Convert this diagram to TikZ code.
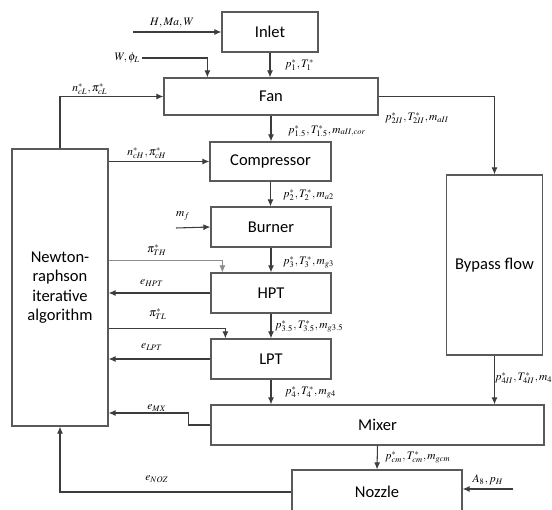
\documentclass[tikz,border=0pt]{standalone}
\usepackage{mathptmx}
\usepackage{fontspec}
\setmainfont{Carlito}
\usepackage{xcolor}
\usepackage{tikz}
\usetikzlibrary{arrows.meta, positioning, calc}
\definecolor{edge}{HTML}{3c3c3c}
\definecolor{frame}{HTML}{5a5a5a}
\definecolor{faint}{HTML}{8c8c8c}

\begin{document}
\begin{tikzpicture}[x=0.02cm, y=-0.02cm,
        block/.style={draw=frame, line width=0.7pt, fill=white, font=\fontsize{9.4}{11}\selectfont},
        arr/.style={draw=edge, line width=0.6pt, -{Latex[length=4pt,width=3.4pt]}},
        lbl/.style={font=\fontsize{6.5}{8}\selectfont, inner sep=1pt}]
        \clip (0,0) rectangle (552,510);
        % Blocks
        \node[block, minimum width=1.92cm, minimum height=0.8cm] (inlet) at (270,32) {Inlet};
        \node[block, minimum width=4.28cm, minimum height=0.74cm] (fan) at (271,96.5) {Fan};
        \node[block, minimum width=2.42cm, minimum height=0.78cm] (comp) at (270.5,161.5) {Compressor};
        \node[block, minimum width=2.4cm, minimum height=0.8cm] (burner) at (271,227) {Burner};
        \node[block, minimum width=2.4cm, minimum height=0.8cm] (hpt) at (271,293) {HPT};
        \node[block, minimum width=2.4cm, minimum height=0.8cm] (lpt) at (271,359) {LPT};
        \node[block, minimum width=6.66cm, minimum height=0.8cm] (mixer) at (377.5,425) {Mixer};
        \node[block, minimum width=3.4cm, minimum height=0.88cm] (nozzle) at (377,492) {Nozzle};
        \node[block, minimum width=1.92cm, minimum height=3.6cm] (bypass) at (494.5,265) {Bypass flow};
        \node[block, minimum width=1.92cm, minimum height=5.54cm, align=center] (newton) at (60,287.5)
            {Newton-\\raphson\\iterative\\algorithm};

        % Inputs
        \coordinate (hin) at (133,32);
        \coordinate (wphi) at (142,58);
        \coordinate (mf) at (176,228);
        \coordinate (a8) at (513,489);
        \draw[arr] (hin) -- (inlet.west);
        \draw[arr] (wphi) -| ($(fan.north west)+(44,0)$);
        \draw[arr] (mf) -- (burner.west);
        \draw[arr] (a8) -- (a8 -| nozzle.east);

        % Main flow
        \draw[arr] (inlet.south) -- (inlet.south |- fan.north);
        \draw[arr] (fan.south) -- (fan.south |- comp.north);
        \draw[arr] (comp.south) -- (comp.south |- burner.north);
        \draw[arr] (burner.south) -- (hpt.north);
        \draw[arr] (hpt.south) -- (lpt.north);
        \draw[arr] (lpt.south) -- (lpt.south |- mixer.north);
        \draw[arr] (fan.east) -| (bypass.north);
        \draw[arr] (bypass.south) -- (bypass.south |- mixer.north);
        \draw[arr] (mixer.south) -- (nozzle.north);

        % Solver links
        \draw[arr] (newton.north) |- (fan.west);
        \draw[arr] (newton.east |- comp.west) -- (comp.west);
        \draw[arr, draw=faint, line width=0.4pt] ($(newton.east |- hpt.north)+(0,-12)$) -| ($(hpt.north west)+(12,0)$);
        \draw[arr] (hpt.west) -- (newton.east |- hpt.west);
        \draw[arr] ($(newton.east |- lpt.north)+(0,-10)$) -| ($(lpt.north west)+(15,0)$);
        \draw[arr] (lpt.west) -- (newton.east |- lpt.west);
        \draw[arr] (mixer.west) -- ++(-22,0) |- ($(newton.east |- mixer.west)+(0,-12)$);
        \draw[arr] (nozzle.west) -| (newton.south);

        % Labels
        \node[lbl] (lhmw) at (172,23) {$H,Ma,W$};
        \node[lbl, anchor=east] (lwphi) at (wphi) {$W,\phi_L$};
        \node[lbl] (lmf) at (183,216) {$m_f$};
        \node[lbl] (la8) at (488,480) {$A_8,p_H$};
        \node[lbl, anchor=west] (lp1) at (283,65) {$p_1^*,T_1^*$};
        \node[lbl, anchor=west] (lp15) at (286,131) {$p_{1.5}^*,T_{1.5}^*,m_{aII,cor}$};
        \node[lbl, anchor=west] (lp2) at (281,195) {$p_2^*,T_2^*,m_{a2}$};
        \node[lbl, anchor=west] (lp3) at (281,262) {$p_3^*,T_3^*,m_{g3}$};
        \node[lbl, anchor=west] (lp35) at (273,326) {$p_{3.5}^*,T_{3.5}^*,m_{g3.5}$};
        \node[lbl, anchor=west] (lp4) at (283,392) {$p_4^*,T_4^*,m_{g4}$};
        \node[lbl, anchor=west] (lp2ii) at (383,118) {$p_{2II}^*,T_{2II}^*,m_{aII}$};
        \node[lbl, anchor=west] (lp4ii) at (493,378) {$p_{4II}^*,T_{4II}^*,m_{4}$};
        \node[lbl, anchor=west] (lpcm) at (383,457) {$p_{cm}^*,T_{cm}^*,m_{gcm}$};
        \node[lbl] (lncl) at (90,89) {$n_{cL}^*,\pi_{cL}^*$};
        \node[lbl] (lnch) at (147,153) {$n_{cH}^*,\pi_{cH}^*$};
        \node[lbl] (lpith) at (157,250) {$\pi_{TH}^*$};
        \node[lbl] (lehpt) at (152,283) {$e_{HPT}$};
        \node[lbl] (lpitl) at (158,314) {$\pi_{TL}^*$};
        \node[lbl] (lelpt) at (152,347) {$e_{LPT}$};
        \node[lbl] (lemx) at (157,408) {$e_{MX}$};
        \node[lbl] (lenoz) at (157,479) {$e_{NOZ}$};
    \end{tikzpicture}
\end{document}
